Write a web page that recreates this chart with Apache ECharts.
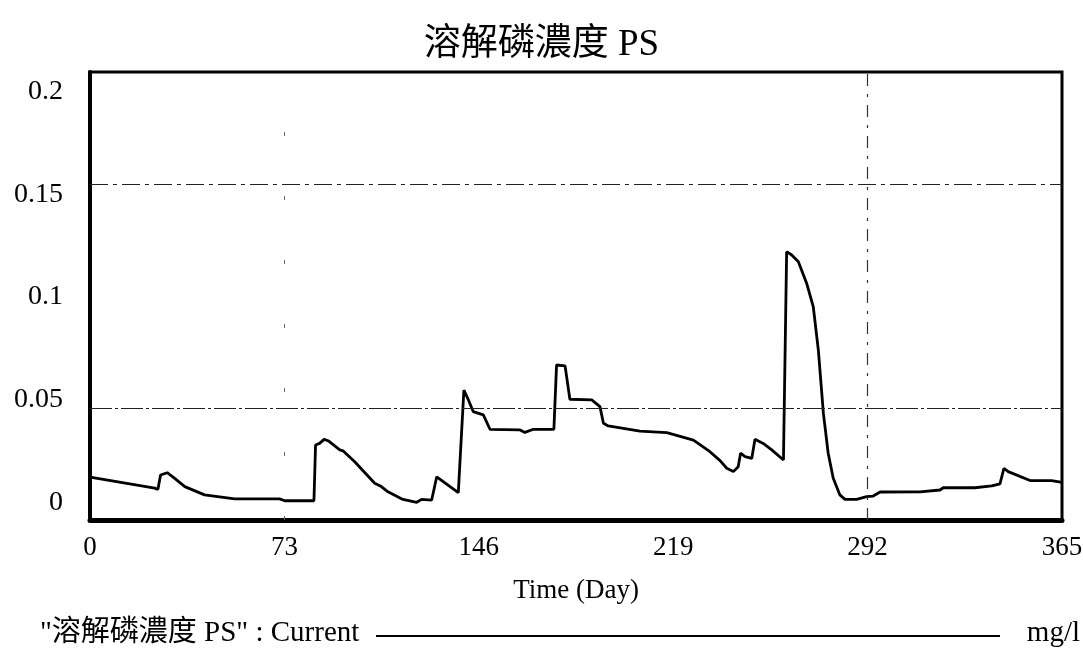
<!DOCTYPE html>
<html>
<head>
<meta charset="utf-8">
<script src="https://cdn.jsdelivr.net/npm/echarts@6/dist/echarts.min.js"></script>
<style>
html,body{margin:0;padding:0;background:#fff;}
#chart{width:1083px;height:654px;}
</style>
</head>
<body>
<div id="chart"></div>
<script>
// ---- data ----
const chartTitle = '溶解磷濃度 PS';
const xAxisTitle = 'Time (Day)';
const legendLabel = '"溶解磷濃度 PS" : Current';
const unitLabel = 'mg/l';
const xTicks = [0, 73, 146, 219, 292, 365];
const yTicks = [0, 0.05, 0.1, 0.15, 0.2];
const gridY = [0.05, 0.15];
const gridX = [73, 292];

const days = [
  0, 24.3, 25.5, 26.5, 29, 31.8, 35.6, 43, 54.3, 71.2, 73.1, 84.1, 84.7, 86.2, 87.9, 89.4,
  93.8, 95, 99.4, 106.9, 109.4, 111.9, 117.5, 122.7, 124.5, 128.3, 130.2, 138.3, 140.4,
  142.1, 143.9, 147.7, 150.2, 161.5, 163.3, 166.5, 174.2, 175.2, 178.4, 180.2, 188.4,
  191.5, 192.8, 194.6, 206.5, 216.6, 226.6, 232.8, 236.6, 239.1, 241.6, 243.4, 244.3,
  246, 248.5, 249.7, 252.8, 256, 260.4, 261.6, 263.5, 266, 269.1, 271.6, 273.5, 275.4,
  277.2, 279.1, 281.6, 283.5, 287.9, 291.6, 294.1, 296.7, 311.7, 312.3, 319.2, 320.4,
  332.3, 333, 338.6, 341.7, 343.2, 344.8, 353, 361.1, 361.7, 365
];
const psValues = [
  0.0191, 0.0142, 0.0137, 0.0201, 0.0211, 0.0186, 0.0149, 0.0112, 0.0094, 0.0094, 0.0086, 0.0086,
  0.0335, 0.0342, 0.0360, 0.0354, 0.0313, 0.0309, 0.0260, 0.0164, 0.0149, 0.0126, 0.0092,
  0.0079, 0.0092, 0.0089, 0.0193, 0.0122, 0.0580, 0.0536, 0.0484, 0.0469, 0.0405, 0.0402,
  0.0391, 0.0405, 0.0405, 0.0692, 0.0688, 0.0539, 0.0536, 0.0506, 0.0432, 0.0420, 0.0397,
  0.0390, 0.0357, 0.0305, 0.0265, 0.0231, 0.0216, 0.0238, 0.0298, 0.0283, 0.0275, 0.0360,
  0.0342, 0.0313, 0.0268, 0.1198, 0.1183, 0.1153, 0.1057, 0.0952, 0.0759, 0.0476, 0.0298,
  0.0186, 0.0112, 0.0092, 0.0092, 0.0104, 0.0107, 0.0125, 0.0126, 0.0134, 0.0134, 0.0144,
  0.0144, 0.0152, 0.0152, 0.0161, 0.0231, 0.0216, 0.0176, 0.0176, 0.0168, 0.0168
];

const seriesData = days.map((d, i) => [d, psValues[i]]);
const FONT = '"Liberation Serif", "Times New Roman", "Noto Sans CJK TC", serif';

const chart = echarts.init(document.getElementById('chart'), null, {renderer: 'canvas'});
chart.setOption({
  backgroundColor: '#fff',
  animation: false,
  title: {
    text: chartTitle,
    left: 'center',
    top: 22,
    textStyle: {fontFamily: FONT, fontSize: 37, fontWeight: 'normal', color: '#000'}
  },
  grid: {left: 90, right: 21, top: 72, bottom: 134, containLabel: false, outerBoundsMode: 'none',
    show: true, borderColor: '#000', borderWidth: 3, backgroundColor: 'transparent'},
  xAxis: {
    type: 'value', min: 0, max: 365, interval: 73,
    name: xAxisTitle, nameLocation: 'middle', nameGap: 57,
    nameTextStyle: {fontFamily: FONT, fontSize: 27, color: '#000'},
    axisLine: {show: true, lineStyle: {color: '#000', width: 5}},
    axisTick: {show: false},
    splitLine: {show: false},
    axisLabel: {fontFamily: FONT, fontSize: 27, color: '#000', margin: 14,
      customValues: xTicks}
  },
  yAxis: [
    {
      type: 'value', min: 0, max: 0.2,
      axisLine: {show: true, lineStyle: {color: '#000', width: 4}},
      axisTick: {show: false}, axisLabel: {show: false}, splitLine: {show: false}
    },
    {
      type: 'value', position: 'left', min: -0.0085, max: 0.2095,
      axisLine: {show: false}, axisTick: {show: false}, splitLine: {show: false},
      axisLabel: {fontFamily: FONT, fontSize: 28, color: '#000', margin: 27,
        customValues: yTicks, formatter: v => String(v)}
    }
  ],
  series: [{
    type: 'line',
    yAxisIndex: 0,
    data: seriesData,
    showSymbol: false,
    symbol: 'none',
    lineStyle: {color: '#000', width: 2.8},
    markLine: {
      silent: true, symbol: 'none', label: {show: false},
      data: [
        {yAxis: gridY[0], lineStyle: {color: '#222', width: 1.2, type: [22, 3, 3, 3]}},
        {yAxis: gridY[1], lineStyle: {color: '#222', width: 1.2, type: [18, 5, 4, 5]}},
        {xAxis: gridX[0], lineStyle: {color: '#666', width: 1, type: [4, 60]}},
        {xAxis: gridX[1], lineStyle: {color: '#333', width: 1.2, type: [12, 8, 3, 8]}}
      ]
    }
  }],
  graphic: [
    {type: 'text', left: 40, top: 619, style: {text: legendLabel, font: '29px ' + FONT, fill: '#000'}},
    {type: 'line', shape: {x1: 376, y1: 636, x2: 1000, y2: 636}, style: {stroke: '#000', lineWidth: 2}},
    {type: 'text', right: 3, top: 619, style: {text: unitLabel, font: '29px ' + FONT, fill: '#000'}}
  ]
});
</script>
</body>
</html>
